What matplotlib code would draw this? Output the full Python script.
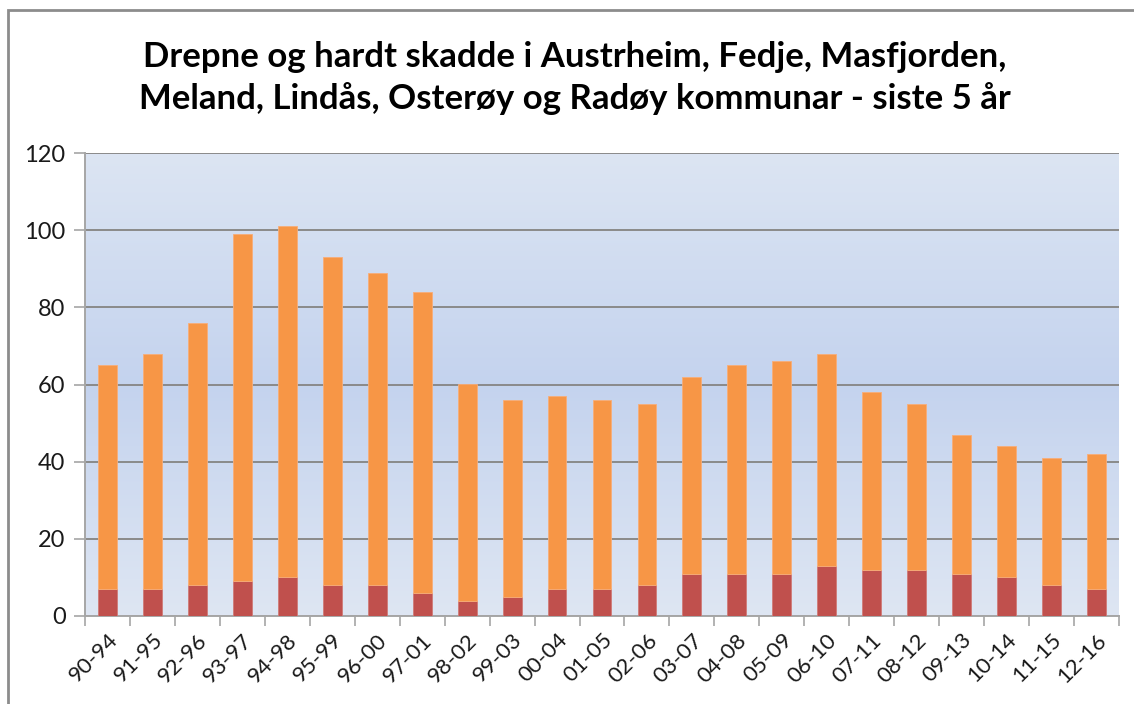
import numpy as np
import matplotlib.pyplot as plt
from matplotlib.patches import Rectangle

# Drepne og hardt skadde, glidande 5-årsperiodar
perioder = ["90-94", "91-95", "92-96", "93-97", "94-98", "95-99", "96-00", "97-01",
            "98-02", "99-03", "00-04", "01-05", "02-06", "03-07", "04-08", "05-09",
            "06-10", "07-11", "08-12", "09-13", "10-14", "11-15", "12-16"]
drepne = [7, 7, 8, 9, 10, 8, 8, 6, 4, 5, 7, 7, 8, 11, 11, 11, 13, 12, 12, 11, 10, 8, 7]
totalt = [65, 68, 76, 99, 101, 93, 89, 84, 60, 56, 57, 56, 55, 62, 65, 66, 68, 58, 55,
          47, 44, 41, 42]
hardt_skadde = [t - d for t, d in zip(totalt, drepne)]

plt.rcParams['font.family'] = ['Lato', 'DejaVu Sans']

fig = plt.figure(figsize=(11.34, 7.04), dpi=100)
W, H = 1134, 704
ax = fig.add_axes([85 / W, 1 - 616 / H, (1119 - 85) / W, (616 - 153) / H])

# ytre ramme rundt diagrammet
fig.patches.append(Rectangle((8 / W, -0.1), 1.2, 1 - 10 / H + 0.1, transform=fig.transFigure,
                             fill=False, edgecolor='#8c8c8c', linewidth=2))

# gradient i plotområdet
stops = np.array([0.0, 0.5, 1.0])
cols = np.array([[0.871, 0.902, 0.953], [0.769, 0.827, 0.933], [0.863, 0.898, 0.953]])
yy = np.linspace(0, 1, 256)
grad = np.stack([np.interp(yy, stops, cols[:, i]) for i in range(3)], axis=-1)[:, None, :]
ax.imshow(grad, extent=[0, 1, 0, 1], transform=ax.transAxes, aspect='auto', zorder=0,
          origin='lower')

x = np.arange(len(perioder))
ax.bar(x, drepne, width=0.42, color='#C0504D', edgecolor='#d07a77', linewidth=0.6, zorder=3)
ax.bar(x, hardt_skadde, width=0.42, bottom=drepne, color='#F79646', edgecolor='#f8ad78',
       linewidth=0.6, zorder=3)

ax.set_xlim(-0.5, len(perioder) - 0.5)
ax.set_ylim(0, 120)
ax.set_yticks(range(0, 121, 20))
ax.yaxis.grid(True, color='#8a8a8a', linewidth=1.4, zorder=1)
ax.set_axisbelow(True)

for side in ['top', 'right']:
    ax.spines[side].set_visible(False)
for side in ['left', 'bottom']:
    ax.spines[side].set_color('#a6a6a6')
    ax.spines[side].set_linewidth(1.4)

ax.tick_params(axis='y', length=8, width=1.2, color='#a6a6a6', labelsize=17, pad=6,
               labelcolor='#1a1a1a')
ax.set_xticks(x)
ax.set_xticklabels(perioder, rotation=45, ha='right', rotation_mode='anchor', fontsize=16,
                   color='#1a1a1a')
ax.tick_params(axis='x', length=0, pad=10)
ax.set_xticks(np.arange(-0.5, len(perioder)), minor=True)
ax.tick_params(axis='x', which='minor', length=7, width=1.2, color='#a6a6a6')

fig.text(0.507, 1 - 78 / H, "Drepne og hardt skadde i Austrheim, Fedje, Masfjorden,\n"
         "Meland, Lindås, Osterøy og Radøy kommunar - siste 5 år",
         ha='center', va='center', fontsize=25, fontweight='bold', linespacing=1.3)

fig.savefig('out.png', dpi=100)
